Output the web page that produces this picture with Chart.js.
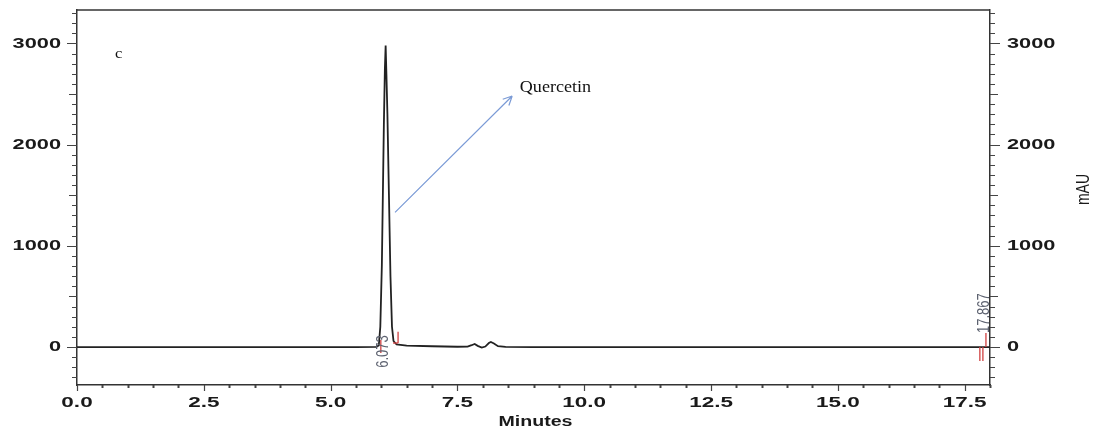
<!DOCTYPE html>
<html>
<head>
<meta charset="utf-8">
<script src="https://cdn.jsdelivr.net/npm/chart.js@4/dist/chart.umd.min.js"></script>
<style>
  html,body{margin:0;padding:0;background:#fff;}
  #wrap{width:1096px;height:433px;position:relative;}
</style>
</head>
<body>
<div id="wrap"><canvas id="c"></canvas></div>
<script>
// ---- data ----
const timeMin = [0, 5.5, 5.9, 5.95, 5.98, 6.01, 6.03, 6.05, 6.07, 6.085, 6.10, 6.12, 6.15, 6.18, 6.21, 6.24, 6.3, 6.5, 7.0, 7.5, 7.7, 7.78, 7.84, 7.9, 7.98, 8.05, 8.12, 8.16, 8.22, 8.3, 8.45, 9, 12, 17.8, 18];
const absorbance = [0, 0, 2, 15, 200, 800, 1500, 2200, 2750, 2980, 2700, 2300, 1500, 700, 200, 60, 25, 15, 8, 3, 4, 18, 30, 12, -6, 5, 40, 50, 35, 8, 1, 0, 0, 0, 0];

const xTickValues = [0, 2.5, 5, 7.5, 10, 12.5, 15, 17.5];
const xTickLabels = ['0.0', '2.5', '5.0', '7.5', '10.0', '12.5', '15.0', '17.5'];
const yTickValues = [0, 1000, 2000, 3000];
const yTickLabels = ['0', '1000', '2000', '3000'];

const panelLabel = 'c';
const compoundLabel = 'Quercetin';
const retentionTimes = ['6.073', '17.867'];

// annotation anchors in data units (minutes, mAU)
const panelLabelPos = [0.75, 2890];
const compoundLabelPos = [8.73, 2560];
const arrowFrom = [6.27, 1330];
const arrowTo = [8.58, 2480];
const rtLabelPos = [[6.03, -205], [17.88, 139]];
const markerSegs = [
  [[6.33, 150], [6.33, 40]], [[6.23, 40], [6.33, 40]],
  [[5.99, 70], [5.99, -60]],
  [[17.92, 139], [17.92, 0]],
  [[17.80, 0], [17.80, -139]], [[17.86, 0], [17.86, -139]]
];

const points = timeMin.map((t, i) => ({x: t, y: absorbance[i]}));

function sText(ctx, txt, x, y, sx, align) {
  ctx.save();
  ctx.translate(x, y);
  ctx.scale(sx, 1);
  ctx.textAlign = align;
  ctx.textBaseline = 'middle';
  ctx.fillText(txt, 0, 0);
  ctx.restore();
}

const decor = {
  id: 'decor',
  afterDraw(chart) {
    const ctx = chart.ctx;
    const xs = chart.scales.x, ys = chart.scales.y;
    const ca = chart.chartArea;
    const X = v => xs.getPixelForValue(v), Y = v => ys.getPixelForValue(v);
    ctx.save();
    // frame top
    ctx.strokeStyle = '#333';
    ctx.lineWidth = 1.5;
    ctx.beginPath();
    ctx.moveTo(ca.left, ca.top); ctx.lineTo(ca.right, ca.top);
    ctx.stroke();
    // y ticks both sides
    ctx.lineWidth = 1;
    ctx.strokeStyle = '#444';
    for (let v = -300; v <= 3300; v += 100) {
      const len = v % 1000 === 0 ? 10 : (v % 500 === 0 ? 8 : 5);
      const py = Math.round(Y(v)) + 0.5;
      ctx.beginPath();
      ctx.moveTo(ca.left - len, py); ctx.lineTo(ca.left, py);
      ctx.moveTo(ca.right, py); ctx.lineTo(ca.right + len, py);
      ctx.stroke();
    }
    // x ticks
    for (let i = 0; i <= 36; i++) {
      const v = i * 0.5;
      const major = Math.abs(v / 2.5 - Math.round(v / 2.5)) < 1e-6;
      const len = major ? 6 : 3;
      const px = Math.round(X(v)) + 0.5;
      ctx.lineWidth = major ? 1.2 : 2;
      ctx.beginPath();
      ctx.moveTo(px, ca.bottom); ctx.lineTo(px, ca.bottom + len);
      ctx.stroke();
    }
    // tick labels
    ctx.fillStyle = '#1a1a1a';
    ctx.font = 'bold 15px "Liberation Sans", Arial, sans-serif';
    yTickValues.forEach((v, i) => {
      sText(ctx, yTickLabels[i], ca.left - 16, Y(v), 1.45, 'right');
      sText(ctx, yTickLabels[i], ca.right + 17, Y(v), 1.45, 'left');
    });
    xTickValues.forEach((v, i) => {
      sText(ctx, xTickLabels[i], X(v), ca.bottom + 18, 1.5, 'center');
    });
    // axis titles
    ctx.font = 'bold 14px "Liberation Sans", Arial, sans-serif';
    sText(ctx, 'Minutes', (ca.left + ca.right) / 2 + 2, ca.bottom + 37, 1.4, 'center');
    ctx.save();
    ctx.translate(1084, (ca.top + ca.bottom) / 2 - 8);
    ctx.rotate(-Math.PI / 2);
    ctx.scale(1, 1.35);
    ctx.font = '14px "Liberation Sans", Arial, sans-serif';
    ctx.textAlign = 'center';
    ctx.textBaseline = 'middle';
    ctx.fillText('mAU', 0, 0);
    ctx.restore();
    // panel label and compound label
    ctx.fillStyle = '#111';
    ctx.font = '15px "Liberation Serif", "Times New Roman", serif';
    sText(ctx, panelLabel, X(panelLabelPos[0]), Y(panelLabelPos[1]), 1.1, 'left');
    ctx.font = '16px "Liberation Serif", "Times New Roman", serif';
    sText(ctx, compoundLabel, X(compoundLabelPos[0]), Y(compoundLabelPos[1]), 1.13, 'left');
    // arrow
    const ax0 = X(arrowFrom[0]), ay0 = Y(arrowFrom[1]);
    const ax1 = X(arrowTo[0]), ay1 = Y(arrowTo[1]);
    ctx.strokeStyle = '#7b9bd6';
    ctx.lineWidth = 1.2;
    ctx.beginPath();
    ctx.moveTo(ax0, ay0); ctx.lineTo(ax1, ay1);
    const ang = Math.atan2(ay1 - ay0, ax1 - ax0);
    const hl = 10;
    ctx.moveTo(ax1, ay1);
    ctx.lineTo(ax1 - hl * Math.cos(ang - 0.45), ay1 - hl * Math.sin(ang - 0.45));
    ctx.moveTo(ax1, ay1);
    ctx.lineTo(ax1 - hl * Math.cos(ang + 0.45), ay1 - hl * Math.sin(ang + 0.45));
    ctx.stroke();
    // integration markers
    ctx.strokeStyle = '#d04040';
    ctx.lineWidth = 1.3;
    markerSegs.forEach(s => {
      ctx.beginPath();
      ctx.moveTo(X(s[0][0]), Y(s[0][1]));
      ctx.lineTo(X(s[1][0]), Y(s[1][1]));
      ctx.stroke();
    });
    // retention time labels
    ctx.fillStyle = '#5d6270';
    ctx.font = '13px "Liberation Sans", Arial, sans-serif';
    retentionTimes.forEach((txt, i) => {
      ctx.save();
      ctx.translate(X(rtLabelPos[i][0]), Y(rtLabelPos[i][1]));
      ctx.rotate(-Math.PI / 2);
      ctx.scale(1, 1.3);
      ctx.textAlign = 'left';
      ctx.textBaseline = 'middle';
      ctx.fillText(txt, 0, 0);
      ctx.restore();
    });
    ctx.restore();
  }
};

new Chart(document.getElementById('c'), {
  type: 'line',
  data: {
    datasets: [{
      data: points,
      borderColor: '#222',
      borderWidth: 1.8,
      pointRadius: 0,
      tension: 0,
      fill: false
    }]
  },
  options: {
    responsive: true,
    maintainAspectRatio: false,
    animation: false,
    layout: {padding: {top: 10, left: 0, right: 0, bottom: 0}},
    plugins: {legend: {display: false}, tooltip: {enabled: false}},
    scales: {
      x: {
        type: 'linear', min: 0, max: 18, position: 'bottom',
        grid: {display: false},
        ticks: {display: false},
        border: {display: true, color: '#333', width: 1.5},
        afterFit: s => { s.height = 48; }
      },
      y: {
        type: 'linear', min: -375, max: 3330, position: 'left',
        grid: {display: false},
        ticks: {display: false},
        border: {display: true, color: '#333', width: 1.5},
        afterFit: s => { s.width = 77; }
      },
      y2: {
        type: 'linear', min: -375, max: 3330, position: 'right',
        grid: {display: false},
        ticks: {display: false},
        border: {display: true, color: '#333', width: 1.5},
        afterFit: s => { s.width = 106; }
      }
    }
  },
  plugins: [decor]
});
</script>
</body>
</html>
